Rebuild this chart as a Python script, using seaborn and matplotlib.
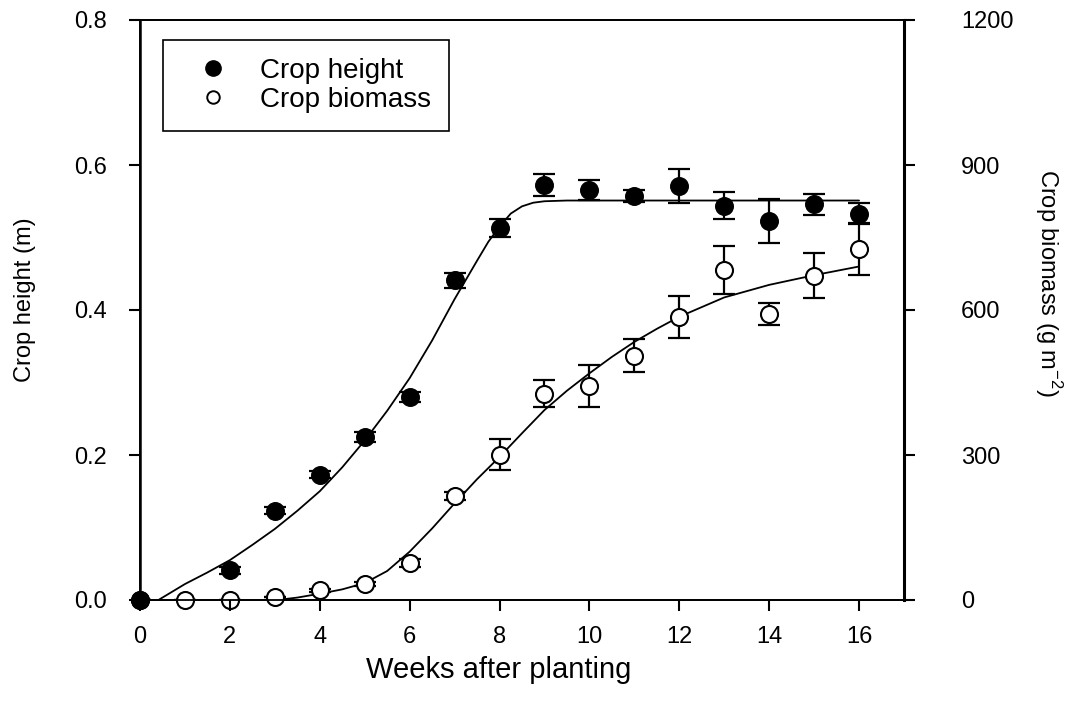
import matplotlib
matplotlib.use("Agg")
import matplotlib.pyplot as plt
from matplotlib.lines import Line2D
import seaborn as sns
import pandas as pd

# ---- data ----
weeks = [0, 1, 2, 3, 4, 5, 6, 7, 8, 9, 10, 11, 12, 13, 14, 15, 16]

height_weeks = [0, 2, 3, 4, 5, 6, 7, 8, 9, 10, 11, 12, 13, 14, 15, 16]
height_m = [0.0, 0.041, 0.123, 0.173, 0.225, 0.280, 0.441, 0.513, 0.572, 0.566,
            0.557, 0.571, 0.544, 0.523, 0.546, 0.533]
height_err = [0.0, 0.005, 0.005, 0.005, 0.007, 0.007, 0.010, 0.0125, 0.0154, 0.0138,
              0.0085, 0.024, 0.019, 0.030, 0.0145, 0.014]

biomass_g = [0, 1, 0, 7, 20, 33, 76, 215, 301, 427, 443, 505, 586, 683, 592, 671, 726]
biomass_err = [0, 0, 0, 0, 3, 5, 8, 8, 33, 28, 43, 34, 43, 50, 22, 47, 54]

# fitted curves
height_fit_x = [0.41, 1.0, 1.5, 2.0, 2.5, 3.0, 3.5, 4.0, 4.5, 5.0, 5.5, 6.0, 6.5,
                7.0, 7.5, 7.75, 8.0, 8.25, 8.5, 8.75, 9.0, 9.5, 16.0]
height_fit_y = [0.0, 0.022, 0.038, 0.055, 0.076, 0.098, 0.123, 0.150, 0.183, 0.220,
                0.261, 0.306, 0.358, 0.415, 0.468, 0.494, 0.515, 0.533, 0.543,
                0.548, 0.550, 0.551, 0.551]

biomass_fit_x = [3.05, 3.5, 4.0, 4.5, 5.0, 5.5, 6.0, 6.5, 7.0, 7.5, 8.0, 8.5, 9.0,
                 9.5, 10.0, 10.5, 11.0, 11.5, 12.0, 13.0, 14.0, 15.0, 16.0]
biomass_fit_y = [0, 5, 13, 22, 35, 60, 100, 148, 200, 250, 296, 345, 393,
                 433, 469, 503, 534, 561, 586, 626, 652, 672, 690]

x_ticks = [0, 2, 4, 6, 8, 10, 12, 14, 16]
left_ticks = [0.0, 0.2, 0.4, 0.6, 0.8]
right_ticks = [0, 300, 600, 900, 1200]

# ---- plotting ----
sns.set_style("ticks")
plt.rcParams['font.family'] = ['Liberation Sans', 'DejaVu Sans']
plt.rcParams['mathtext.fontset'] = 'custom'
plt.rcParams['mathtext.rm'] = 'Liberation Sans'
for k in ("text.color", "axes.labelcolor", "xtick.color", "ytick.color"):
    plt.rcParams[k] = "black"

fig = plt.figure(figsize=(10.72, 7.01), dpi=100)
ax = fig.add_axes([140/1072, 1-600/701, (904-140)/1072, (600-20)/701])
ax2 = ax.twinx()

dh = pd.DataFrame({"week": height_weeks, "h": height_m})
db = pd.DataFrame({"week": weeks, "b": biomass_g})
fh = pd.DataFrame({"x": height_fit_x, "y": height_fit_y})
fb = pd.DataFrame({"x": biomass_fit_x, "y": biomass_fit_y})

# fitted lines
sns.lineplot(data=fh, x="x", y="y", ax=ax, color="black", lw=1.3, sort=False,
             estimator=None, zorder=2)
sns.lineplot(data=fb, x="x", y="y", ax=ax2, color="black", lw=1.3, sort=False,
             estimator=None, zorder=2)

# error bars
ax.errorbar(height_weeks, height_m, yerr=height_err, fmt="none", ecolor="black",
            elinewidth=1.6, capsize=8, capthick=1.6, zorder=3)
ax2.errorbar(weeks, biomass_g, yerr=biomass_err, fmt="none", ecolor="black",
             elinewidth=1.6, capsize=8, capthick=1.6, zorder=3)

# markers
sns.scatterplot(data=db, x="week", y="b", ax=ax2, marker="o", s=150,
                facecolor="white", edgecolor="black", linewidth=1.5, zorder=4,
                clip_on=False)
sns.scatterplot(data=dh, x="week", y="h", ax=ax, marker="o", s=160,
                color="black", edgecolor="black", linewidth=1, zorder=4,
                clip_on=False)

ax.set_zorder(ax2.get_zorder() + 1)
ax.patch.set_visible(False)

ax.set_xlim(0, 17)
ax.set_ylim(0, 0.8)
ax2.set_ylim(0, 1200)
ax.set_xticks(x_ticks)
ax.set_xticklabels([str(t) for t in x_ticks])
ax.set_yticks(left_ticks)
ax.set_yticklabels([f"{t:.1f}" for t in left_ticks])
ax2.set_yticks(right_ticks)
ax2.set_yticklabels([str(t) for t in right_ticks])

ax.tick_params(axis="x", direction="out", length=8, width=1.5, labelsize=17, pad=11,
               colors="black")
ax.tick_params(axis="y", direction="out", length=8, width=1.5, labelsize=17, pad=16,
               colors="black")
ax2.tick_params(axis="y", direction="out", length=8, width=1.5, labelsize=17, pad=33,
                colors="black")

for a in (ax, ax2):
    for sp in a.spines.values():
        sp.set_color("black")
        sp.set_linewidth(1.3)
ax2.spines["right"].set_linewidth(2.2)
ax.spines["left"].set_linewidth(1.8)

ax.set_xlabel("Weeks after planting", fontsize=21, color="black")
ax.xaxis.set_label_coords((499 - 140) / 764, -(670 - 600) / 580)
ax.xaxis.label.set_va("center")
ax.set_ylabel("")
ax2.set_ylabel("")
fig.text(25/1072, 1-300/701, "Crop height (m)", rotation=90, fontsize=17,
         ha="center", va="center", color="black")
fig.text(1048/1072, 1-283/701, "Crop biomass (g m$^{-2}$)", rotation=270,
         fontsize=17, ha="center", va="center", color="black")

handles = [
    Line2D([], [], marker="o", linestyle="none", markersize=11,
           markerfacecolor="black", markeredgecolor="black"),
    Line2D([], [], marker="o", linestyle="none", markersize=9,
           markerfacecolor="white", markeredgecolor="black", markeredgewidth=1.4),
]
leg = ax.legend(handles, ["Crop height", "Crop biomass"], loc="upper left",
                bbox_to_anchor=(0.030, 0.9655), borderaxespad=0, fontsize=20,
                frameon=True, fancybox=False, edgecolor="black", framealpha=1,
                handletextpad=0.55, borderpad=0.65, labelspacing=0.1,
                handlelength=2.3)
leg.get_frame().set_linewidth(1.2)
for t in leg.get_texts():
    t.set_color("black")

fig.savefig("out.png", dpi=100)
